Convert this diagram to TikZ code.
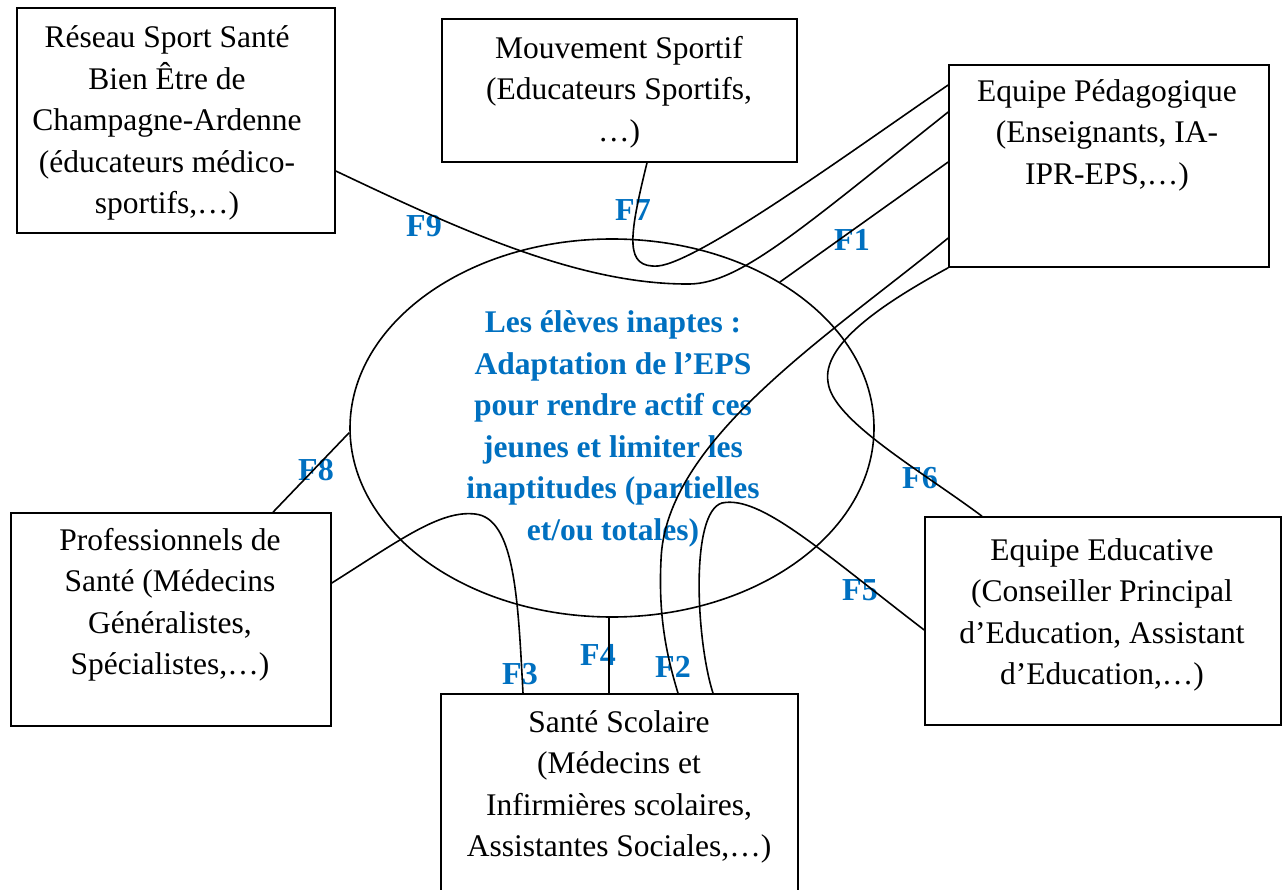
\documentclass[tikz,border=0pt]{standalone}
\usepackage{fontspec}
\setmainfont{Liberation Serif}
\usetikzlibrary{shapes.geometric}
\definecolor{wblue}{RGB}{0,112,192}
\begin{document}
\begin{tikzpicture}[x=1pt,y=-1pt,
  box/.style={draw, line width=1.6pt, inner sep=0pt, rectangle},
  txt/.style={align=center, font=\fontsize{31.5}{41.5}\selectfont, inner sep=0pt},
  btxt/.style={align=center, text=wblue, font=\fontsize{31.5}{41.5}\selectfont\bfseries, inner sep=0pt},
  lab/.style={text=wblue, font=\fontsize{32}{38}\selectfont\bfseries, inner sep=0pt},
  link/.style={line width=1.6pt}]
\useasboundingbox (0,0) rectangle (1287,890);
% boxes
\node[box, minimum width=318pt, minimum height=225pt] (reseau) at (176,120.5) {};
\node[box, minimum width=355pt, minimum height=143pt] (mouv) at (619.5,90.5) {};
\node[box, minimum width=320pt, minimum height=202pt] (ped) at (1109,166) {};
\node[box, minimum width=320pt, minimum height=213pt] (pro) at (171,619.5) {};
\node[box, minimum width=357pt, minimum height=206pt] (scol) at (619.5,797) {};
\node[box, minimum width=356pt, minimum height=208pt] (educ) at (1103,621) {};
\node[draw, ellipse, line width=1.6pt, inner sep=0pt, minimum width=524pt, minimum height=378pt] (elev) at (612,428) {};
% texts
\node[txt] (reseauT) at (167,123) {Réseau Sport Santé\\Bien Être de\\Champagne-Ardenne\\(éducateurs médico-\\sportifs,…)};
\node[txt] (mouvT) at (619,92) {Mouvement Sportif\\(Educateurs Sportifs,\\…)};
\node[txt] (pedT) at (1107,135) {Equipe Pédagogique\\(Enseignants, IA-\\IPR-EPS,…)};
\node[txt] (proT) at (170,605) {Professionnels de\\Santé (Médecins\\Généralistes,\\Spécialistes,…)};
\node[txt] (scolT) at (619,787) {Santé Scolaire\\(Médecins et\\Infirmières scolaires,\\Assistantes Sociales,…)};
\node[txt] (educT) at (1102,615) {Equipe Educative\\(Conseiller Principal\\d’Education, Assistant\\d’Education,…)};
\node[btxt] (elevT) at (613,429) {Les élèves inaptes :\\Adaptation de l’EPS\\pour rendre actif ces\\jeunes et limiter les\\inaptitudes (partielles\\et/ou totales)};
% labels
\node[lab] (F9) at (424,226) {F9};
\node[lab] (F7) at (633,210) {F7};
\node[lab] (F1) at (852,240) {F1};
\node[lab] (F8) at (316,470) {F8};
\node[lab] (F6) at (920,478) {F6};
\node[lab] (F5) at (860,590) {F5};
\node[lab] (F3) at (520,674) {F3};
\node[lab] (F4) at (598,655) {F4};
\node[lab] (F2) at (673,667) {F2};
% connectors
\draw[link] (reseau.east |- 0,171) .. controls (460,230) and (580,285) .. (690,284) .. controls (740,283) and (800,230) .. (ped.west |- 0,112);
\draw[link] (mouv.south -| 647,0) .. controls (628,240) and (625,268) .. (658,266) .. controls (700,262) and (860,145) .. (ped.west |- 0,85);
\draw[link] (ped.west |- 0,162) -- (elev.41);
\draw[link] (ped.west |- 0,238) .. controls (830,335) and (665,440) .. (661,560) .. controls (658,620) and (668,660) .. (scol.north -| 678,0);
\draw[link] (ped.south west) .. controls (880,305) and (822,345) .. (828,382) .. controls (832,420) and (920,470) .. (educ.north -| 982,0);
\draw[link] (educ.west |- 0,630) .. controls (820,550) and (760,495) .. (722,503) .. controls (690,512) and (696,640) .. (scol.north -| 713,0);
\draw[link] (pro.east |- 0,583) .. controls (400,540) and (440,510) .. (475,514) .. controls (515,518) and (518,600) .. (scol.north -| 523,0);
\draw[link] (elev.-91) -- (elev.-91 |- scol.north);
\draw[link] (pro.north -| 273,0) -- (elev.181);
\end{tikzpicture}
\end{document}
